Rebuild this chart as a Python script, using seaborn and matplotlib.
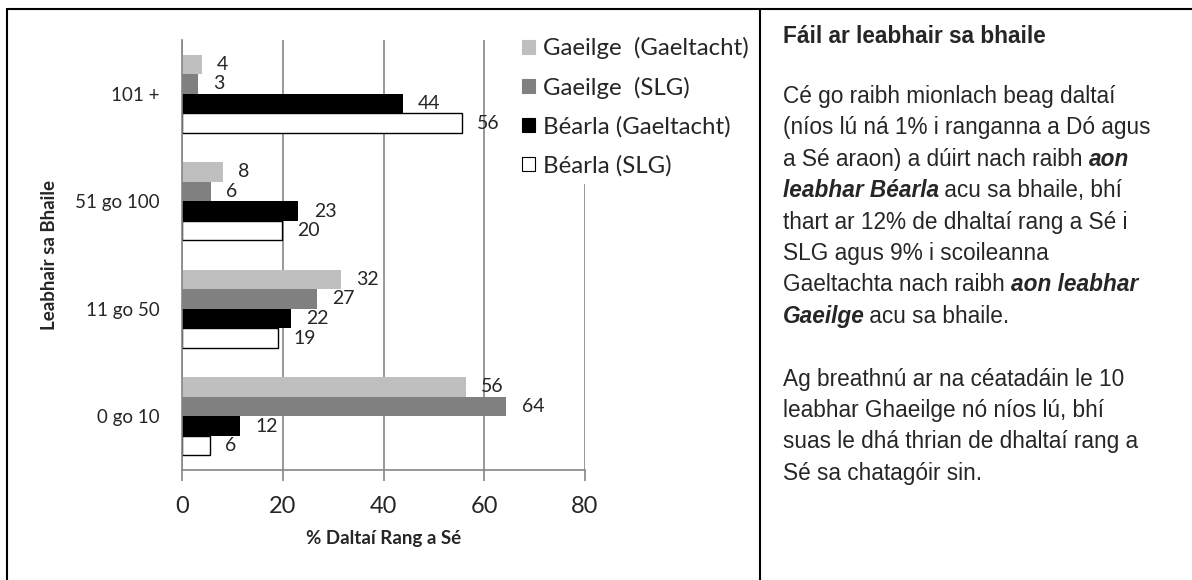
import pandas as pd
import seaborn as sns
import matplotlib.pyplot as plt
from matplotlib.lines import Line2D
from matplotlib.patches import Patch

categories = ['101 +', '51 go 100', '11 go 50', '0 go 10']
series = ['Gaeilge  (Gaeltacht)', 'Gaeilge  (SLG)', 'Béarla (Gaeltacht)', 'Béarla (SLG)']
gaeilge_gaeltacht = [3.9, 8.1, 31.6, 56.3]
gaeilge_slg = [3.2, 5.7, 26.7, 64.4]
bearla_gaeltacht = [43.8, 23.1, 21.6, 11.6]
bearla_slg = [55.6, 19.9, 19.1, 5.6]
x_ticks = [0, 20, 40, 60, 80]
colours = ['#BFBFBF', '#808080', '#000000', '#FFFFFF']

title = 'Fáil ar leabhair sa bhaile'
# each line: list of (text, bold-italic?)
para_lines = [
    [('Cé go raibh mionlach beag daltaí', False)],
    [('(níos lú ná 1% i ranganna a Dó agus', False)],
    [('a Sé araon) a dúirt nach raibh ', False), ('aon', True)],
    [('leabhar Béarla', True), (' acu sa bhaile, bhí', False)],
    [('thart ar 12% de dhaltaí rang a Sé i', False)],
    [('SLG agus 9% i scoileanna', False)],
    [('Gaeltachta nach raibh ', False), ('aon leabhar', True)],
    [('Gaeilge', True), (' acu sa bhaile.', False)],
    [],
    [('Ag breathnú ar na céatadáin le 10', False)],
    [('leabhar Ghaeilge nó níos lú, bhí', False)],
    [('suas le dhá thrian de dhaltaí rang a', False)],
    [('Sé sa chatagóir sin.', False)],
]

#
#
#
df = pd.DataFrame({
    'category': categories,
    series[0]: gaeilge_gaeltacht,
    series[1]: gaeilge_slg,
    series[2]: bearla_gaeltacht,
    series[3]: bearla_slg,
}).melt(id_vars='category', var_name='series', value_name='value')

#
#
#
sns.set_style('white')
plt.rcParams['font.family'] = ['Lato', 'DejaVu Sans']

W, H = 1192, 580
fig = plt.figure(figsize=(W / 100, H / 100), dpi=100)
ax = fig.add_axes([182 / W, 1 - 470 / H, (585 - 182) / W, (470 - 40) / H])

sns.barplot(
    data=df, x='value', y='category', hue='series',
    order=categories, hue_order=series, palette=colours,
    orient='h', width=0.73, saturation=1, legend=False, ax=ax,
    edgecolor='none',
)
for bar in ax.containers[3]:
    bar.set_edgecolor('black')
    bar.set_linewidth(1)

for c in ax.containers:
    ax.bar_label(c, fmt='{:.0f}', padding=11, fontsize=14)

axis_grey = '#868686'
ax.set_xlim(0, 80)
ax.set_xticks(x_ticks)
ax.set_yticks(range(len(categories)))
ax.set_yticklabels(categories)
ax.set_yticks([i - 0.5 for i in range(len(categories) + 1)], minor=True)
ax.tick_params(axis='y', which='major', length=0, pad=16, labelsize=13.5)
ax.tick_params(axis='y', which='minor', length=6, color=axis_grey, width=1.2)
ax.tick_params(axis='x', which='major', length=8, color=axis_grey, width=1.2,
               pad=11, labelsize=17, bottom=True)
ax.grid(True, axis='x', color=axis_grey, linewidth=1.2)
ax.set_axisbelow(True)
for s in ['top', 'right']:
    ax.spines[s].set_visible(False)
for s in ['left', 'bottom']:
    ax.spines[s].set_color(axis_grey)
    ax.spines[s].set_linewidth(1.2)

ax.set_xlabel('% Daltaí Rang a Sé', fontsize=13.5, fontweight='bold', labelpad=9)
ax.set_ylabel('Leabhair sa Bhaile', fontsize=13.5, fontweight='bold', labelpad=12)

handles = [Patch(facecolor=col, edgecolor='black' if col == '#FFFFFF' else col,
                 linewidth=0.8) for col in colours]
fig.legend(handles, series, loc='upper left', bbox_to_anchor=(515 / W, 1 - 30 / H),
           fontsize=17.3, frameon=True, facecolor='white', edgecolor='none',
           framealpha=1, handlelength=0.55, handleheight=0.55,
           handletextpad=0.3, labelspacing=0.72, borderpad=0.3,
           borderaxespad=0)

# outer box
for xs, ys in [([7, 7], [9, H]), ([7, W], [9, 9]), ([760, 760], [9, H])]:
    fig.add_artist(Line2D([x / W for x in xs], [1 - y / H for y in ys],
                          color='black', linewidth=1.5))

# text panel
renderer = fig.canvas.get_renderer()
txt_kw = dict(fontsize=16.3, family=['Liberation Sans', 'DejaVu Sans'], va='baseline')
fig.text(783 / W, 1 - 43 / H, title, fontweight='bold', **txt_kw)
for i, parts in enumerate(para_lines):
    y = 103 + 31.4 * i
    x = 783
    for txt, strong in parts:
        t = fig.text(x / W, 1 - y / H, txt,
                     fontweight='bold' if strong else 'normal',
                     fontstyle='italic' if strong else 'normal', **txt_kw)
        # italic bounding boxes overhang a little
        x += t.get_window_extent(renderer).width - (1.5 if strong else 0)

fig.savefig('out.png', dpi=100)
